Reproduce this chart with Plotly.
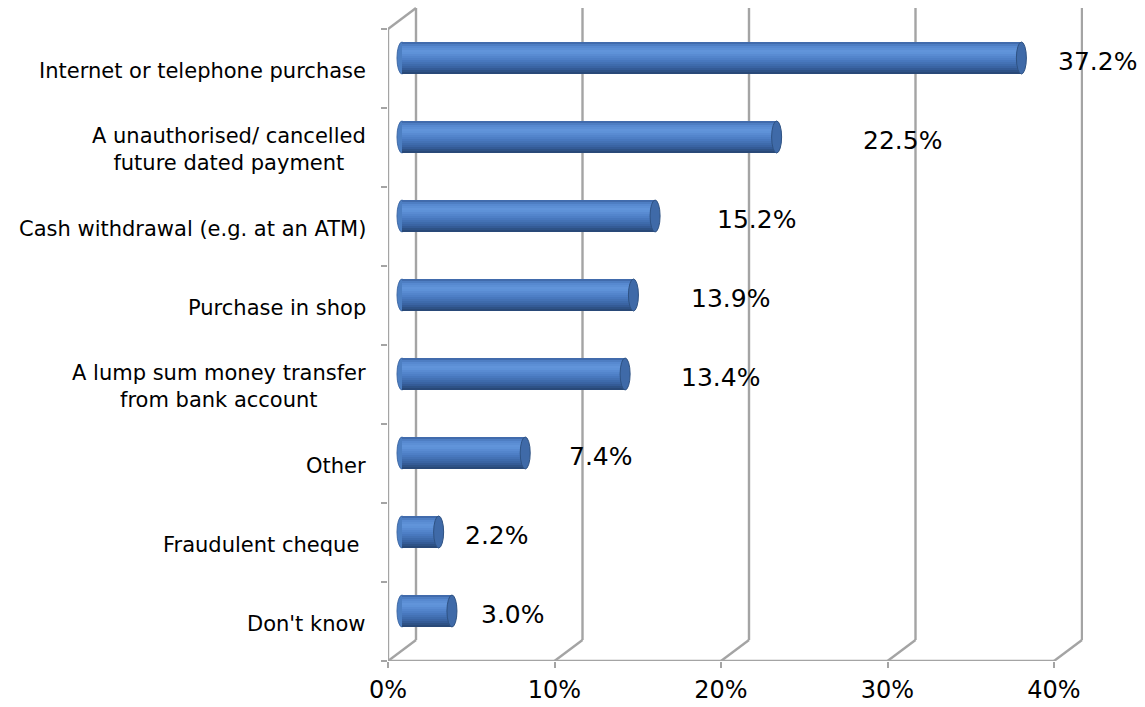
import plotly.graph_objects as go

# Ways the fraud took place (share of respondents, %)
categories = [
    "Internet or telephone purchase",
    "A unauthorised/ cancelled<br>future dated payment",
    "Cash withdrawal (e.g. at an ATM)",
    "Purchase in shop",
    "A lump sum money transfer<br>from bank account",
    "Other",
    "Fraudulent cheque ",
    "Don't know",
]
values = [37.2, 22.5, 15.2, 13.9, 13.4, 7.4, 2.2, 3.0]
x_ticks = [0, 10, 20, 30, 40]
x_tick_text = ["0%", "10%", "20%", "30%", "40%"]

# ---- geometry of the pseudo-3D frame ----
W, H = 1145, 707
M_L, M_R, M_T, M_B = 388, 62, 7, 46
PX_PER_PCT = 16.65          # horizontal pixels per percentage point
PX_PER_ROW = 79.0           # vertical pixels per category row
plot_w = W - M_L - M_R
plot_h = H - M_T - M_B
x_max = plot_w / PX_PER_PCT
y_max = plot_h / PX_PER_ROW
n = len(categories)
DEPTH_X = 28 / PX_PER_PCT   # back plane offset (right)
DEPTH_Y = 21 / PX_PER_ROW   # back plane offset (up)
BAR_H = 32 / PX_PER_ROW     # cylinder thickness
CAP_RX = 5 / PX_PER_PCT     # half-width of the elliptical end faces

FRAME = "#a4a4a4"
FONT = "Verdana, DejaVu Sans, sans-serif"

front_centres = [n - i - 0.5 for i in range(n)]
bar_centres = [c + DEPTH_Y / 2 for c in front_centres]
bar_base = DEPTH_X / 2

fig = go.Figure()

# ---- frame: back wall gridlines, floor diagonals, front edges ----
shapes = []
line = dict(color=FRAME, width=2.4)
for g in x_ticks:
    shapes.append(dict(type="line", xref="x", yref="y", layer="below",
                       x0=g + DEPTH_X, y0=DEPTH_Y, x1=g + DEPTH_X, y1=n + DEPTH_Y, line=line))
    shapes.append(dict(type="line", xref="x", yref="y", layer="below",
                       x0=g, y0=0, x1=g + DEPTH_X, y1=DEPTH_Y, line=line))
shapes.append(dict(type="line", xref="x", yref="y", layer="below",
                   x0=0, y0=0, x1=x_ticks[-1], y1=0, line=line))
shapes.append(dict(type="line", xref="x", yref="y", layer="below",
                   x0=0, y0=0, x1=0, y1=n, line=line))
shapes.append(dict(type="line", xref="x", yref="y", layer="below",
                   x0=0, y0=n, x1=DEPTH_X, y1=n + DEPTH_Y, line=line))

# ---- cylinders: left rounded ends (under the bodies) ----
for c in bar_centres:
    shapes.append(dict(type="circle", xref="x", yref="y", layer="below",
                       x0=bar_base - CAP_RX, x1=bar_base + CAP_RX,
                       y0=c - BAR_H / 2, y1=c + BAR_H / 2,
                       fillcolor="#4d7fc2", line=dict(color="#3d68a6", width=1)))

# ---- cylinder bodies as shaded horizontal strips ----
stops = [(0.0, (58, 98, 160)), (0.12, (84, 134, 205)), (0.3, (98, 150, 220)),
         (0.55, (76, 125, 196)), (0.8, (56, 98, 160)), (1.0, (38, 68, 112))]


def shade(t):
    for (t0, c0), (t1, c1) in zip(stops[:-1], stops[1:]):
        if t <= t1:
            f = (t - t0) / (t1 - t0) if t1 > t0 else 0
            return "rgb(%d,%d,%d)" % tuple(round(a + (b - a) * f) for a, b in zip(c0, c1))
    return "rgb(%d,%d,%d)" % stops[-1][1]


N_STRIPS = 16
strip = BAR_H / N_STRIPS
for k in range(N_STRIPS):
    t = (k + 0.5) / N_STRIPS
    offset_y = BAR_H / 2 - (k + 0.5) * strip
    fig.add_trace(go.Bar(
        orientation="h",
        x=values,
        y=[c + offset_y for c in bar_centres],
        base=bar_base,
        width=strip * 1.15,
        marker=dict(color=shade(t), line=dict(width=0)),
        hoverinfo="skip",
        showlegend=False,
    ))

# ---- right end faces ----
for v, c in zip(values, bar_centres):
    xe = bar_base + v
    shapes.append(dict(type="circle", xref="x", yref="y", layer="above",
                       x0=xe - CAP_RX, x1=xe + CAP_RX,
                       y0=c - BAR_H / 2, y1=c + BAR_H / 2,
                       fillcolor="#3f6aa8", line=dict(color="#2e5283", width=1)))

# ---- annotations: category names and value labels ----
annotations = []
for name, y in zip(categories, front_centres):
    annotations.append(dict(xref="x", yref="y", x=0, y=y, xanchor="right", yanchor="middle",
                            xshift=-20, yshift=-2, text=name, showarrow=False, align="center",
                            font=dict(family=FONT, size=21, color="#000000")))
label_max = 42.6            # keeps the widest label inside the page
for v, c in zip(values, bar_centres):
    lx = min(1.2 * v + 3.9, label_max)
    annotations.append(dict(xref="paper", yref="y", x=lx / x_max, y=c,
                            xanchor="center", yanchor="middle",
                            yshift=-3, text=f"{v:.1f}%", showarrow=False,
                            font=dict(family=FONT, size=25, color="#000000")))

fig.update_layout(
    width=W, height=H,
    margin=dict(l=M_L, r=M_R, t=M_T, b=M_B, pad=0, autoexpand=False),
    paper_bgcolor="white", plot_bgcolor="white",
    barmode="overlay", bargap=0,
    shapes=shapes, annotations=annotations,
    xaxis=dict(range=[0, x_max], tickvals=x_ticks, ticktext=x_tick_text,
               ticks="outside", ticklen=6, tickwidth=2, tickcolor=FRAME,
               ticklabelstandoff=1, automargin=False,
               showgrid=False, zeroline=False, showline=False, fixedrange=True,
               tickfont=dict(family=FONT, size=24, color="#000000")),
    yaxis=dict(range=[0, y_max], tickvals=list(range(n + 1)), ticktext=[""] * (n + 1),
               ticks="outside", ticklen=6, tickwidth=2, tickcolor=FRAME,
               automargin=False,
               showgrid=False, zeroline=False, showline=False, fixedrange=True),
)

fig.write_html("out.html")
